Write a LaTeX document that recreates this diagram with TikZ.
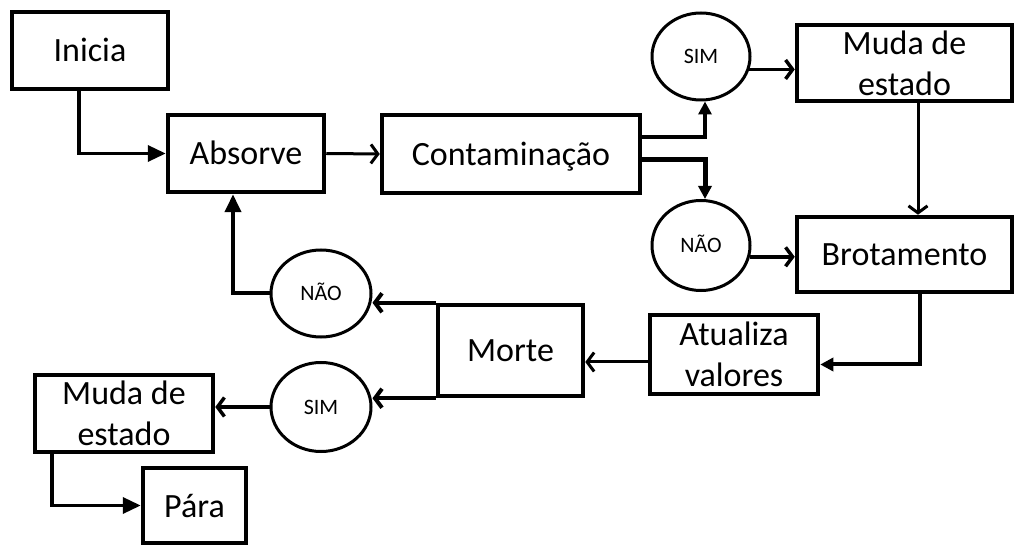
\documentclass[tikz,border=0pt]{standalone}
\usepackage{fontspec}
\setmainfont{Carlito}
\usetikzlibrary{arrows.meta,calc,shapes.geometric}
\begin{document}
\begin{tikzpicture}[x=1pt,y=-1pt,
  box/.style={draw,line width=4.5pt,inner sep=0pt,align=center,font=\fontsize{34}{41}\selectfont},
  one/.style={text height=30pt,text depth=7pt},
  circ/.style={draw,ellipse,line width=3pt,inner sep=0pt,font=\fontsize{22}{26}\selectfont,text height=15pt,text depth=0pt},
  conn/.style={line width=3.5pt},
  barb/.style={-{Straight Barb[length=7pt,width=19pt]}},
  tri/.style={-{Triangle[length=18pt,width=16pt]}},
  smalltri/.style={-{Triangle[length=13pt,width=13pt]}}
]
\useasboundingbox (0,0) rectangle (1018,545);
% boxes
\node[box,one,minimum width=156pt,minimum height=77pt] (ini) at (90,50.5) {Inicia};
\node[box,one,minimum width=156pt,minimum height=77pt] (abs) at (246,153.5) {Absorve};
\node[box,one,minimum width=258pt,minimum height=78pt] (con) at (511,154) {Contaminação};
\node[box,minimum width=215pt,minimum height=76pt] (muda1) at (904.5,63) {Muda de\\estado};
\node[box,one,minimum width=215pt,minimum height=75pt] (brot) at (904.5,254.5) {Brotamento};
\node[box,minimum width=168pt,minimum height=79pt] (atu) at (734,354.5) {Atualiza\\valores};
\node[box,one,minimum width=145pt,minimum height=91pt] (morte) at (510.5,350.5) {Morte};
\node[box,minimum width=178pt,minimum height=77pt] (muda2) at (124,413.5) {Muda de\\estado};
\node[box,one,minimum width=103pt,minimum height=75pt] (para) at (194.5,505.5) {Pára};
% decision circles
\node[circ,minimum width=98pt,minimum height=87pt] (sim1) at (701,56.5) {SIM};
\node[circ,minimum width=98pt,minimum height=90pt] (nao1) at (701,245.5) {NÃO};
\node[circ,minimum width=100pt,minimum height=87pt] (nao2) at (321,293.5) {NÃO};
\node[circ,minimum width=100pt,minimum height=89pt] (sim2) at (321,407) {SIM};
% connector helper points
\coordinate (c1) at ($(atu.west)+(0,7.5)$);
% connectors
\draw[conn,tri] ($(ini.south)+(-11,0)$) |- (abs.west);
\draw[conn,barb,line width=3pt] (abs.east) -- (con.west);
\draw[conn,smalltri] ($(con.east)+(0,-17)$) -| ($(sim1.south)+(4,0)$);
\draw[conn,smalltri,line width=5pt] ($(con.east)+(0,6)$) -| ($(nao1.north)+(4,0)$);
\draw[conn,barb] (sim1.-15) -- (sim1.-15 -| muda1.west);
\draw[conn,barb] (nao1.-13) -- (nao1.-13 -| brot.west);
\draw[conn,barb,line width=3pt] ($(muda1.south)+(13.5,0)$) -- ($(brot.north)+(13.5,0)$);
\draw[conn,smalltri,line width=4pt] ($(brot.south)+(15.5,0)$) |- ($(atu.east)+(0,10)$);
\draw[conn,barb,line width=3pt] (c1) -- (c1 -| morte.east);
\draw[conn,barb,line width=4pt] (morte.north west) -- (morte.north west -| nao2.east);
\draw[conn,barb,line width=4pt] (morte.south west) -- (morte.south west -| sim2.east);
\draw[conn,tri,line width=4pt] (nao2.west) -| ($(abs.south)+(-13,0)$);
\draw[conn,barb] (sim2.west) -- (sim2.west -| muda2.east);
\draw[conn,tri] ($(muda2.south)+(-72,0)$) |- (para.west);
\end{tikzpicture}
\end{document}
